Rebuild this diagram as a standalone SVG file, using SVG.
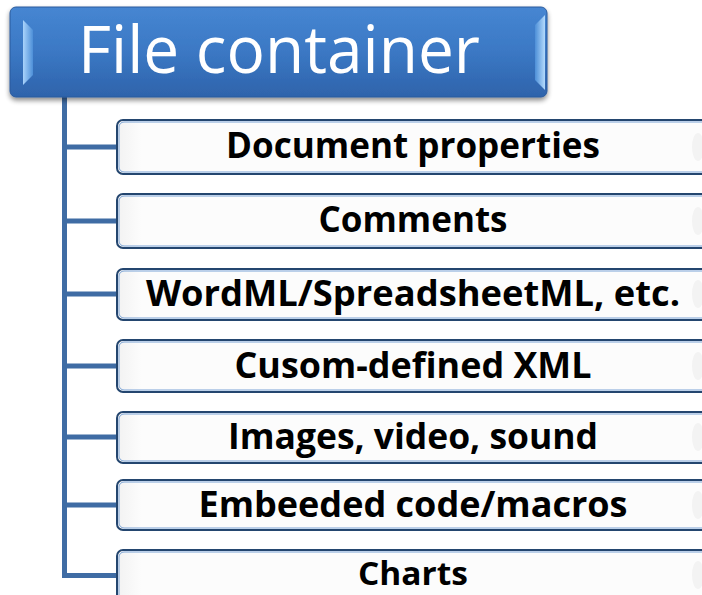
<svg xmlns="http://www.w3.org/2000/svg" width="702" height="595" viewBox="0 0 702 595">
  <defs>
    <linearGradient id="headFill" x1="0" y1="0" x2="0" y2="1">
      <stop offset="0" stop-color="#4686d2"/>
      <stop offset="0.5" stop-color="#3b78c4"/>
      <stop offset="1" stop-color="#2e63ab"/>
    </linearGradient>
    <linearGradient id="bevelL" x1="0" y1="0" x2="1" y2="0">
      <stop offset="0" stop-color="#a9d3fb"/>
      <stop offset="1" stop-color="#4d8fd8"/>
    </linearGradient>
    <linearGradient id="bevelR" x1="0" y1="0" x2="1" y2="0">
      <stop offset="0" stop-color="#4d8fd8"/>
      <stop offset="1" stop-color="#b3dafc"/>
    </linearGradient>
    <linearGradient id="boxFill" x1="0" y1="0" x2="1" y2="0">
      <stop offset="0" stop-color="#f2f2f2"/>
      <stop offset="0.04" stop-color="#fcfcfc"/>
      <stop offset="1" stop-color="#fcfcfc"/>
    </linearGradient>
    <filter id="shadow" x="-5%" y="-10%" width="110%" height="130%">
      <feGaussianBlur in="SourceAlpha" stdDeviation="2.5"/>
      <feOffset dx="0" dy="3" result="b"/>
      <feComponentTransfer><feFuncA type="linear" slope="0.45"/></feComponentTransfer>
      <feMerge><feMergeNode/><feMergeNode in="SourceGraphic"/></feMerge>
    </filter>
  </defs>
  <style>
    .item rect.outer { fill: url(#boxFill); stroke: #24466f; stroke-width: 2; }
    .item rect.inner { fill: none; stroke: #7aa3d6; stroke-width: 1; }
    .item text { font-family: "Open Sans", "Liberation Sans", sans-serif; font-weight: bold; font-size: 35px; fill: #000; text-anchor: middle; }
    .item .ghost { fill: #f3f3f3; }
    .link { stroke: #3f6ca4; stroke-width: 5; fill: none; }
  </style>

  <!-- tree connectors -->
  <g id="connectors">
    <path class="link" d="M64.5,96 V575.5 H118"/>
    <path class="link" d="M64.5,147 H118"/>
    <path class="link" d="M64.5,221 H118"/>
    <path class="link" d="M64.5,294 H118"/>
    <path class="link" d="M64.5,366 H118"/>
    <path class="link" d="M64.5,437 H118"/>
    <path class="link" d="M64.5,505 H118"/>
  </g>

  <!-- header -->
  <g id="file-container">
    <rect x="10" y="7" width="537" height="90" rx="6" fill="url(#headFill)" stroke="#2a5a9c" stroke-width="1" filter="url(#shadow)"/>
    <polygon points="23,20 33,30 33,75 23,85" fill="url(#bevelL)"/>
    <polygon points="545,15 535,25 535,80 545,90" fill="url(#bevelR)"/>
    <text x="279" y="73" font-family="Open Sans, Liberation Sans, sans-serif" font-size="66" fill="#ffffff" text-anchor="middle" textLength="402" lengthAdjust="spacingAndGlyphs">File container</text>
  </g>

  <g id="document-properties" class="item">
    <rect class="outer" x="117" y="120" width="600" height="54" rx="6"/>
    <rect class="inner" x="119" y="122" width="596" height="50" rx="5"/>
    <ellipse class="ghost" cx="698" cy="147" rx="6" ry="14"/>
    <text x="413" y="158" textLength="374" lengthAdjust="spacingAndGlyphs">Document properties</text>
  </g>

  <g id="comments" class="item">
    <rect class="outer" x="117" y="194" width="600" height="54" rx="6"/>
    <rect class="inner" x="119" y="196" width="596" height="50" rx="5"/>
    <ellipse class="ghost" cx="698" cy="221" rx="6" ry="14"/>
    <text x="413" y="232" textLength="189" lengthAdjust="spacingAndGlyphs">Comments</text>
  </g>

  <g id="wordml" class="item">
    <rect class="outer" x="117" y="269" width="600" height="51" rx="6"/>
    <rect class="inner" x="119" y="271" width="596" height="47" rx="5"/>
    <ellipse class="ghost" cx="698" cy="294" rx="6" ry="14"/>
    <text x="413" y="306" textLength="534" lengthAdjust="spacingAndGlyphs">WordML/SpreadsheetML, etc.</text>
  </g>

  <g id="custom-xml" class="item">
    <rect class="outer" x="117" y="340" width="600" height="52" rx="6"/>
    <rect class="inner" x="119" y="342" width="596" height="48" rx="5"/>
    <ellipse class="ghost" cx="698" cy="366" rx="6" ry="14"/>
    <text x="413" y="378" textLength="357" lengthAdjust="spacingAndGlyphs">Cusom-defined XML</text>
  </g>

  <g id="media" class="item">
    <rect class="outer" x="117" y="412" width="600" height="51" rx="6"/>
    <rect class="inner" x="119" y="414" width="596" height="47" rx="5"/>
    <ellipse class="ghost" cx="698" cy="437" rx="6" ry="14"/>
    <text x="413" y="449" textLength="370" lengthAdjust="spacingAndGlyphs">Images, video, sound</text>
  </g>

  <g id="macros" class="item">
    <rect class="outer" x="117" y="480" width="600" height="50" rx="6"/>
    <rect class="inner" x="119" y="482" width="596" height="46" rx="5"/>
    <ellipse class="ghost" cx="698" cy="505" rx="6" ry="14"/>
    <text x="413" y="517" textLength="429" lengthAdjust="spacingAndGlyphs">Embeeded code/macros</text>
  </g>

  <g id="charts" class="item">
    <rect class="outer" x="117" y="550" width="600" height="54" rx="6"/>
    <rect class="inner" x="119" y="552" width="596" height="50" rx="5"/>
    <ellipse class="ghost" cx="698" cy="575" rx="6" ry="14"/>
    <text x="413" y="585" style="font-size:33px" textLength="110" lengthAdjust="spacingAndGlyphs">Charts</text>
  </g>
</svg>
